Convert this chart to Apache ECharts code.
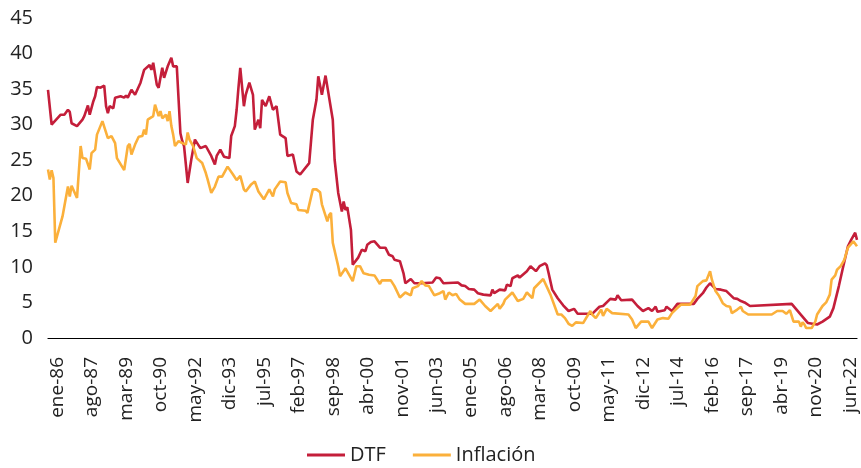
<!DOCTYPE html>
<html>
<head>
<meta charset="utf-8">
<script src="https://cdn.jsdelivr.net/npm/echarts@6/dist/echarts.min.js"></script>
<style>
  html, body { margin: 0; padding: 0; background: #fff; }
  #chart { width: 861px; height: 468px; }
</style>
</head>
<body>
<div id="chart"></div>
<script>
// meses para las etiquetas (ene-86 ... mar-23)
var meses = ['ene', 'feb', 'mar', 'abr', 'may', 'jun', 'jul', 'ago', 'sep', 'oct', 'nov', 'dic'];
var anioInicio = 1986;
var totalMeses = 447;

// [indice de mes, valor %]
var dtf = [
    [0, 34.9], [2, 30.0], [7, 31.4], [9, 31.4], [11, 32.1], [12, 31.8], [13, 30.2], [16, 29.8],
    [19, 30.7], [20, 31.2], [22, 32.7], [23, 31.4], [25, 33.3], [26, 34.0], [27, 35.3], [29, 35.2],
    [31, 35.5], [32, 32.6], [33, 31.6], [34, 32.6], [36, 32.3], [37, 33.8], [40, 34.0], [42, 33.8],
    [43, 34.1], [44, 33.8], [46, 34.9], [48, 34.2], [51, 35.9], [52, 36.1], [53, 37.7], [54, 37.5],
    [56, 38.4], [57, 37.7], [58, 38.7], [60, 35.6], [61, 35.2], [63, 38.0], [64, 36.6], [66, 38.2],
    [68, 39.4], [69, 38.2], [71, 38.2], [73, 28.8], [74, 27.7], [75, 27.0], [77, 21.8], [79, 25.1],
    [81, 27.9], [84, 26.7], [87, 27.0], [90, 25.6], [92, 24.4], [93, 25.6], [95, 26.5], [97, 25.5],
    [100, 25.3], [101, 28.4], [103, 29.8], [104, 32.1], [105, 35.2], [106, 38.0], [108, 32.6], [109, 34.2],
    [111, 35.9], [113, 34.2], [114, 29.3], [116, 30.7], [117, 29.5], [118, 33.5], [120, 32.6], [122, 34.0],
    [124, 32.1], [126, 32.6], [128, 28.6], [131, 28.1], [132, 25.6], [135, 25.8], [137, 23.4], [139, 23.0],
    [144, 24.6], [146, 30.7], [148, 33.5], [149, 36.8], [151, 34.2], [153, 36.9], [157, 30.7], [158, 25.1],
    [160, 20.4], [162, 17.8], [163, 19.2], [164, 18.0], [165, 18.4], [167, 15.2], [168, 10.3], [171, 11.3],
    [172, 11.5], [173, 12.4], [175, 12.2], [176, 13.1], [178, 13.5], [180, 13.6], [183, 12.7], [186, 12.7],
    [188, 11.7], [190, 11.5], [191, 11.0], [194, 10.8], [196, 9.1], [197, 7.7], [200, 8.3], [202, 7.7],
    [206, 7.7], [212, 7.8], [214, 8.5], [216, 8.4], [218, 7.7], [226, 7.8], [228, 7.4], [230, 7.3],
    [232, 6.9], [235, 6.8], [237, 6.3], [240, 6.1], [241, 5.9], [244, 6.0], [245, 6.8], [246, 6.3],
    [249, 6.8], [252, 6.7], [253, 7.5], [255, 7.3], [256, 8.4], [259, 8.8], [260, 8.5], [264, 9.4],
    [266, 10.1], [269, 9.4], [271, 10.1], [274, 10.5], [275, 10.2], [276, 9.1], [278, 6.8], [281, 5.6],
    [284, 4.6], [287, 3.8], [290, 4.1], [292, 3.4], [300, 3.4], [304, 4.4], [306, 4.5], [310, 5.5],
    [313, 5.4], [314, 6.0], [316, 5.3], [322, 5.4], [325, 4.5], [328, 3.8], [331, 4.2], [333, 3.8],
    [335, 4.4], [336, 3.7], [340, 3.9], [341, 4.4], [344, 3.8], [347, 4.8], [356, 4.8], [358, 5.5],
    [361, 6.3], [363, 7.1], [365, 7.7], [368, 6.9], [371, 6.8], [374, 6.6], [376, 6.1], [378, 5.6],
    [380, 5.5], [382, 5.2], [384, 5.0], [387, 4.5], [410, 4.8], [415, 3.3], [419, 2.1], [424, 1.9],
    [427, 2.3], [431, 3.0], [433, 4.2], [436, 7.3], [438, 9.6], [441, 12.9], [443, 13.9], [445, 14.8],
    [446, 13.8]
];

var inflacion = [
    [0, 23.7], [1, 22.3], [2, 23.6], [3, 22.5], [4, 13.4], [8, 17.1], [9, 18.5], [11, 21.3],
    [12, 19.9], [13, 21.4], [16, 19.7], [17, 23.4], [18, 27.0], [19, 25.3], [21, 25.2], [23, 23.7],
    [24, 26.0], [26, 26.5], [27, 28.6], [28, 28.6], [30, 30.5], [33, 28.1], [35, 28.4], [37, 27.4],
    [38, 25.3], [42, 23.6], [44, 27.0], [45, 27.3], [46, 25.8], [48, 27.2], [50, 28.3], [52, 28.4],
    [53, 29.3], [54, 28.6], [55, 30.7], [58, 31.2], [59, 32.8], [61, 31.2], [62, 31.9], [63, 30.9],
    [65, 31.4], [66, 30.5], [67, 31.9], [68, 29.8], [69, 28.6], [70, 27.0], [72, 27.7], [74, 27.4],
    [76, 27.2], [77, 28.9], [78, 27.9], [80, 27.0], [82, 25.3], [85, 24.6], [87, 23.2], [88, 22.3],
    [90, 20.4], [92, 21.3], [94, 22.7], [96, 22.7], [99, 24.1], [102, 23.0], [104, 22.2], [106, 22.8],
    [108, 20.9], [109, 20.6], [112, 21.6], [114, 22.0], [116, 20.6], [119, 19.5], [122, 20.9], [124, 19.9],
    [125, 20.9], [128, 22.0], [131, 21.9], [132, 20.4], [134, 19.0], [137, 18.8], [138, 18.0], [142, 17.9],
    [143, 17.6], [146, 20.9], [148, 20.9], [150, 20.5], [151, 18.8], [154, 16.4], [155, 17.3], [156, 17.6],
    [157, 13.4], [160, 10.1], [161, 8.7], [164, 9.8], [168, 8.0], [170, 10.1], [172, 10.1], [174, 9.1],
    [177, 8.9], [180, 8.8], [183, 7.6], [184, 8.1], [189, 8.1], [191, 7.3], [194, 5.7], [197, 6.4],
    [200, 6.0], [201, 7.0], [204, 7.3], [206, 8.0], [208, 7.4], [210, 7.3], [213, 6.0], [216, 6.3],
    [218, 6.6], [219, 5.4], [221, 6.4], [223, 6.0], [225, 6.2], [227, 5.4], [230, 4.8], [235, 4.8],
    [238, 5.4], [241, 4.5], [244, 3.8], [248, 4.8], [249, 4.1], [251, 4.8], [252, 5.4], [256, 6.4],
    [259, 5.2], [262, 5.5], [264, 6.4], [267, 5.6], [268, 7.0], [273, 8.3], [277, 6.1], [281, 3.3],
    [283, 3.3], [285, 2.8], [287, 2.0], [289, 1.7], [291, 2.2], [295, 2.1], [299, 3.8], [300, 3.3],
    [302, 2.8], [305, 4.0], [306, 3.1], [308, 4.1], [311, 3.5], [320, 3.3], [322, 2.6], [324, 1.4],
    [327, 2.3], [331, 2.3], [333, 1.4], [336, 2.6], [339, 2.8], [342, 2.7], [344, 3.5], [346, 4.0],
    [349, 4.7], [354, 4.7], [357, 5.9], [358, 7.3], [361, 8.0], [363, 8.1], [365, 9.4], [366, 8.2],
    [368, 6.6], [370, 5.9], [372, 4.9], [374, 4.5], [376, 4.4], [377, 3.5], [380, 4.0], [382, 4.4],
    [383, 3.8], [386, 3.3], [399, 3.3], [402, 3.8], [405, 3.8], [407, 3.4], [409, 3.9], [411, 2.3],
    [414, 2.3], [415, 1.6], [416, 2.2], [417, 1.9], [418, 1.4], [421, 1.4], [423, 2.3], [424, 3.3],
    [427, 4.5], [429, 5.0], [431, 6.1], [432, 8.2], [434, 8.8], [435, 9.6], [437, 10.1], [439, 11.0],
    [441, 12.7], [444, 13.6], [446, 12.9]
];

var categorias = [];
for (var i = 0; i < totalMeses; i++) {
    var anio = (anioInicio + Math.floor(i / 12)) % 100;
    categorias.push(meses[i % 12] + '-' + (anio < 10 ? '0' + anio : anio));
}

var fuente = 'Open Sans';
var myChart = echarts.init(document.getElementById('chart'));
var option = {
    animation: false,
    textStyle: { fontFamily: fuente },
    grid: { left: 48, right: 4, top: 18, bottom: 130 },
    legend: {
        left: 302,
        top: 440,
        itemWidth: 38,
        itemHeight: 3,
        itemGap: 27,
        icon: 'rect',
        textStyle: { fontSize: 20, color: '#222', fontFamily: fuente },
        data: ['DTF', 'Inflación']
    },
    xAxis: {
        type: 'category',
        data: categorias,
        boundaryGap: false,
        axisLine: { lineStyle: { color: '#000', width: 1.2 } },
        axisTick: { show: false },
        axisLabel: {
            interval: 18,
            rotate: 90,
            margin: 19,
            fontSize: 19,
            color: '#222',
            // el original tiene las etiquetas algo a la derecha del punto
            verticalAlign: 'top',
            fontFamily: fuente
        }
    },
    yAxis: {
        type: 'value',
        min: 0,
        max: 45,
        interval: 5,
        splitLine: { show: false },
        axisLine: { show: false },
        axisTick: { show: false },
        axisLabel: { fontSize: 20, color: '#222', margin: 15, fontFamily: fuente }
    },
    series: [
        {
            name: 'DTF',
            type: 'line',
            data: dtf,
            showSymbol: false,
            color: '#C41E3A',
            lineStyle: { width: 2.6, color: '#C41E3A' }
        },
        {
            name: 'Inflación',
            type: 'line',
            data: inflacion,
            showSymbol: false,
            color: '#FBB03B',
            lineStyle: { width: 2.6, color: '#FBB03B' }
        }
    ]
};
myChart.setOption(option);
</script>
</body>
</html>
